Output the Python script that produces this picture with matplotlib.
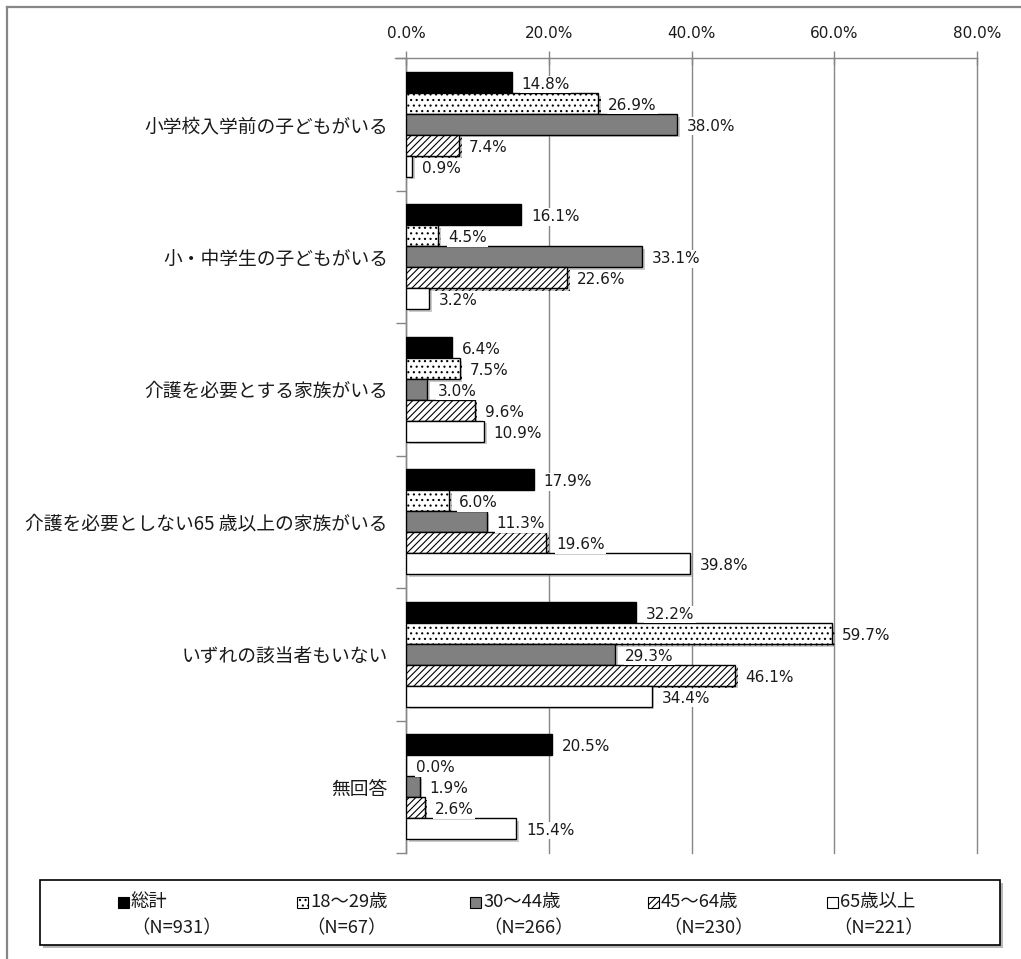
import matplotlib
matplotlib.use('Agg')
import matplotlib.pyplot as plt
import matplotlib.patheffects as pe
from matplotlib.patches import Rectangle
from matplotlib.lines import Line2D
from matplotlib.ticker import FuncFormatter, FixedLocator
import numpy as np

plt.rcParams['font.family'] = ['DejaVu Sans', 'Noto Sans CJK JP']
plt.rcParams['hatch.linewidth'] = 0.8

# data
categories = ['小学校入学前の子どもがいる', '小・中学生の子どもがいる', '介護を必要とする家族がいる',
              '介護を必要としない65 歳以上の家族がいる', 'いずれの該当者もいない', '無回答']
series_names = ['総計', '18～29歳', '30～44歳', '45～64歳', '65歳以上']
series_n = ['（N=931）', '（N=67）', '（N=266）', '（N=230）', '（N=221）']

total = [14.8, 16.1, 6.4, 17.9, 32.2, 20.5]
age18_29 = [26.9, 4.5, 7.5, 6.0, 59.7, 0.0]
age30_44 = [38.0, 33.1, 3.0, 11.3, 29.3, 1.9]
age45_64 = [7.4, 22.6, 9.6, 19.6, 46.1, 2.6]
age65 = [0.9, 3.2, 10.9, 39.8, 34.4, 15.4]
series = [total, age18_29, age30_44, age45_64, age65]

xticks = [0, 20, 40, 60, 80]

styles = [
    dict(facecolor='black', edgecolor='black', hatch=None),
    dict(facecolor='white', edgecolor='black', hatch='...'),
    dict(facecolor='#808080', edgecolor='black', hatch=None),
    dict(facecolor='white', edgecolor='black', hatch='/////'),
    dict(facecolor='white', edgecolor='black', hatch=None),
]

W, H = 1021, 959
fig = plt.figure(figsize=(W / 100, H / 100), dpi=100)


def fx(px):
    return px / W


def fy(py):
    return 1 - py / H


ax = fig.add_axes([fx(406), fy(853), fx(977 - 406), (853 - 58) / H])

grid_col = '#868686'
bar_h = 0.158
y = np.arange(len(categories))
shadow = [pe.SimplePatchShadow(offset=(2, -2), shadow_rgbFace='#999999', alpha=0.5), pe.Normal()]

for i, vals in enumerate(series):
    pos = y + (i - 2) * bar_h
    bars = ax.barh(pos, vals, height=bar_h, linewidth=1.0, zorder=3, **styles[i])
    if i > 0:
        for b in bars:
            b.set_path_effects(shadow)
    for p, v in zip(pos, vals):
        ax.annotate(f'{v:.1f}%', (v, p), xytext=(10, -2), textcoords='offset pixels',
                    ha='left', va='center', fontsize=11, color='#1a1a1a', zorder=5,
                    bbox=dict(facecolor='white', edgecolor='none', pad=1.0))

ax.set_xlim(0, 80)
ax.set_ylim(len(categories) - 0.5, -0.5)

ax.xaxis.tick_top()
ax.set_xticks(xticks)
ax.xaxis.set_major_formatter(FuncFormatter(lambda v, _: f'{v:.1f}%'))
ax.tick_params(axis='x', direction='inout', length=10, color=grid_col, width=1,
               pad=7, labelsize=11, labelcolor='#1a1a1a')
ax.xaxis.grid(True, color=grid_col, linewidth=1, zorder=0)
for gl in ax.get_xgridlines():
    gl.set_clip_on(False)
ax.set_axisbelow(True)

ax.set_yticks(y)
ax.set_yticklabels(categories, family=['Noto Sans CJK JP'], fontsize=13.5, color='#1a1a1a')
ax.tick_params(axis='y', which='major', length=0, pad=13)
ax.yaxis.set_minor_locator(FixedLocator(np.arange(len(categories) + 1) - 0.5))
ax.tick_params(axis='y', which='minor', length=7, color=grid_col, width=1, direction='out')

for s in ['right', 'bottom']:
    ax.spines[s].set_visible(False)
for s in ['top', 'left']:
    ax.spines[s].set_color(grid_col)
    ax.spines[s].set_linewidth(1)
ax.spines['top'].set_bounds(-1.5, 80)

# outer chart frame (only top and left visible in the crop)
fig.add_artist(Line2D([fx(7), 1], [fy(7), fy(7)], color='#878787', lw=1.6, transform=fig.transFigure))
fig.add_artist(Line2D([fx(7), fx(7)], [fy(7), 0], color='#878787', lw=1.6, transform=fig.transFigure))

# legend box
fig.add_artist(Rectangle((fx(40), fy(945)), fx(960), 65 / H, transform=fig.transFigure,
                         facecolor='white', edgecolor='black', lw=1.2,
                         path_effects=[pe.SimplePatchShadow(offset=(2, -2), alpha=0.4), pe.Normal()]))

marker_x = [118, 297, 470, 648, 827]
n_x = [131, 306, 483, 663, 833]
msz = 11
for i, name in enumerate(series_names):
    fig.add_artist(Rectangle((fx(marker_x[i]), fy(902 + msz / 2)), fx(msz), msz / H,
                             transform=fig.transFigure, linewidth=0.8, **styles[i]))
    fig.text(fx(marker_x[i] + msz + 2), fy(902), name, family=['Noto Sans CJK JP'],
             fontsize=13.2, va='center', ha='left', color='#1a1a1a')
    fig.text(fx(n_x[i]), fy(928), series_n[i], family=['Noto Sans CJK JP'],
             fontsize=13.2, va='center', ha='left', color='#1a1a1a')

fig.savefig('out.png', dpi=100, facecolor='white')
